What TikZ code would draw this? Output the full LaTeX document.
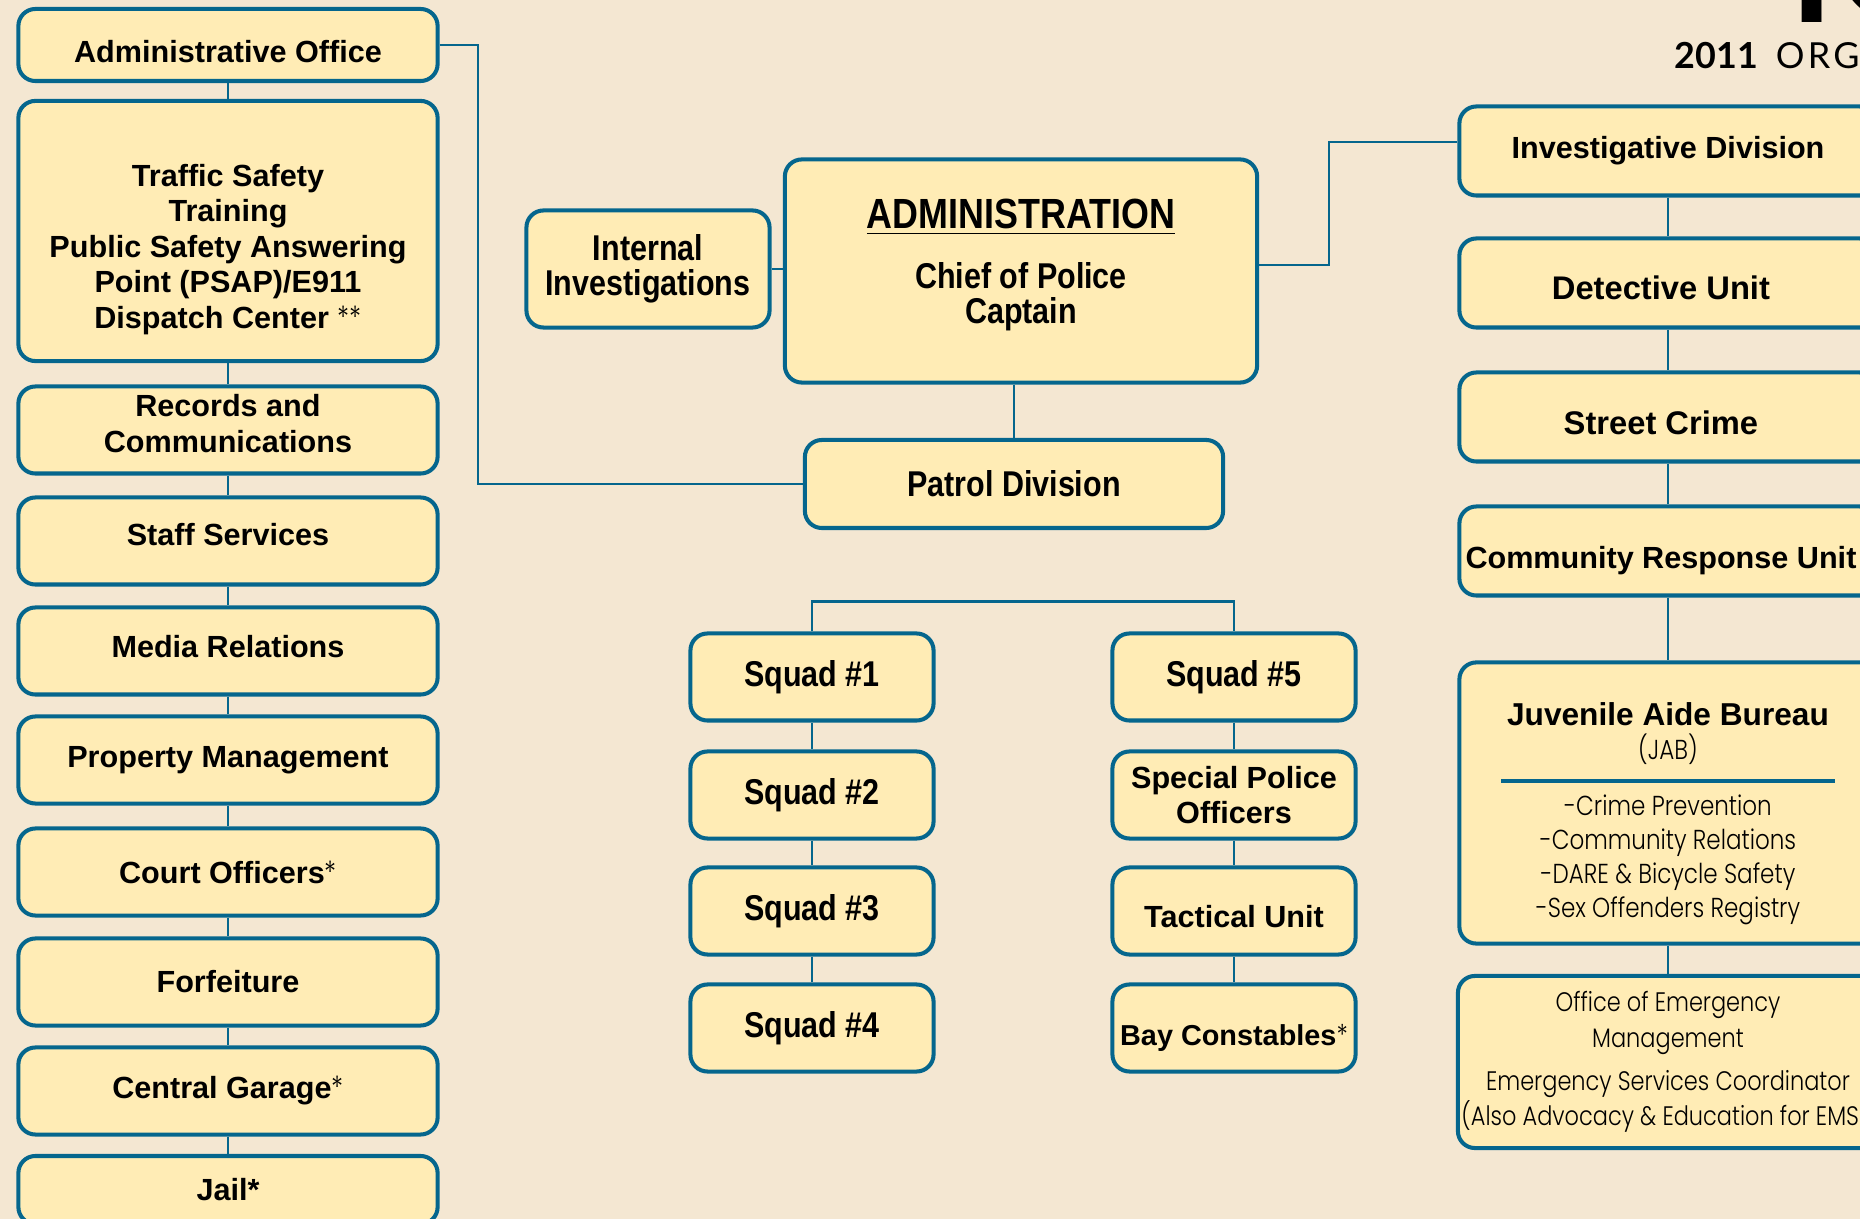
\documentclass[tikz,border=0pt]{standalone}
\usepackage{fontspec}
\setmainfont{Liberation Sans}
\newfontfamily\condfam[FakeStretch=0.85]{Liberation Sans}
\IfFontExistsTF{Poppins Light}
  {\newfontfamily\lightfam[FakeStretch=0.84]{Poppins Light}}
  {\newfontfamily\lightfam[FakeStretch=0.84]{Poppins}}
\newfontfamily\titlefam{Lato}

\definecolor{paper}{HTML}{F4E7D2}
\definecolor{boxfill}{HTML}{FFECB5}
\definecolor{lineblue}{HTML}{05668D}

\newcommand\unitfont{\bfseries\fontsize{8.7}{10.1}\selectfont}
\newcommand\condfont{\condfam\bfseries\fontsize{10.2}{10.1}\selectfont}
\newcommand\lightfont{\lightfam\mdseries\fontsize{7.8}{9.7}\selectfont}
\newcommand\lightstar{{\lightfam\mdseries *}}

\tikzset{
  unit/.style={draw=lineblue, line width=1.15pt, fill=boxfill, rounded corners=0.17cm,
    align=center, inner sep=1pt, font=\unitfont},
  wide/.style={unit, minimum width=4.19cm, minimum height=0.87cm},
  squad/.style={unit, minimum width=2.43cm, minimum height=0.87cm},
  side/.style={unit, minimum width=4.17cm, minimum height=0.89cm},
  lowtext/.style={text height=11.5pt, text depth=1.8pt},
  link/.style={draw=lineblue, line width=0.6pt},
}

\begin{document}
\begin{tikzpicture}[x=0.01cm, y=-0.01cm]
	\useasboundingbox (0,0) rectangle (1860,1219);
	\fill [paper] (0,0) rectangle (1860,1219);
	\clip (0,0) rectangle (1860,1219);

	% title, cut by the edge
	\node [anchor=base west, inner sep=0pt, text depth=0pt, font=\titlefam\fontsize{58}{60}\selectfont] (banner) at (1783,23) {I\kern-4pt C};
	\node [anchor=base west, inner sep=0pt, font=\titlefam\fontsize{10.2}{12}\selectfont] (year) at (1674,69)
		{\textbf{2011}\hspace{2.5pt} {\addfontfeature{LetterSpace=9}ORG}};

	% left column
	\node [wide, lowtext, minimum height=0.72cm] (aoff) at (228,45) {Administrative Office};
	\node [wide, minimum height=2.60cm] (traffic) at (228,231) {\mbox{}\\[6.6pt]Traffic Safety\\Training\\Public Safety Answering\\Point (PSAP)/E911\\Dispatch Center \lightstar\lightstar};
	\node [wide, text depth=3.6pt] (records) at (228,430) {Records and\\Communications};
	\node [wide, text depth=3.8pt] (staff) at (228,541) {Staff Services};
	\node [wide, text depth=2.4pt] (media) at (228,651) {Media Relations};
	\node [wide] (property) at (228,760) {Property Management};
	\node [wide] (court) at (228,872) {Court Officers\lightstar};
	\node [wide] (forfeit) at (228,982) {Forfeiture};
	\node [wide] (garage) at (228,1091) {Central Garage\lightstar};
	\node [wide, minimum height=0.68cm] (jail) at (228,1190) {Jail*};

	% centre
	\node [unit, font=\condfont, minimum width=2.43cm, minimum height=1.17cm] (intinv) at (648,269) {Internal\\Investigations};
	\node [unit, font=\condfont, minimum width=4.72cm, minimum height=2.23cm] (admin) at (1021,271)
		{{\fontsize{12}{14}\selectfont\underline{ADMINISTRATION}}\\[7pt]Chief of Police\\Captain\\[-4.6pt]\mbox{}};
	\node [unit, font=\condfont, minimum width=4.18cm, minimum height=0.88cm] (patrol) at (1014,484) {Patrol Division};

	\node [squad, font=\condfont] (sq1) at (812,677) {Squad \#1};
	\node [squad, font=\condfont] (sq2) at (812,795) {Squad \#2};
	\node [squad, font=\condfont] (sq3) at (812,911) {Squad \#3};
	\node [squad, font=\condfont] (sq4) at (812,1028) {Squad \#4};
	\node [squad, font=\condfont] (sq5) at (1234,677) {Squad \#5};
	\node [squad, font=\bfseries\fontsize{8.7}{9.8}\selectfont] (spo) at (1234,795) {Special Police\\Officers};
	\node [squad, text height=9.5pt] (tact) at (1234,911) {Tactical Unit};
	\node [squad, lowtext, font=\bfseries\fontsize{8.2}{9.8}\selectfont] (bay) at (1234,1028) {Bay Constables\lightstar};

	% right column
	\node [side] (inv) at (1668,151) {Investigative Division};
	\node [side, text height=9.5pt, font=\bfseries\fontsize{9.3}{11}\selectfont] (det) at (1668,283) {Detective Unit\hspace{4pt}};
	\node [side, lowtext, font=\bfseries\fontsize{9.3}{11}\selectfont] (street) at (1668,417) {Street Crime\hspace{4pt}};
	\node [side, lowtext] (cru) at (1668,551) {Community Response Unit\hspace{4pt}};
	\node [side, minimum height=2.81cm] (jab) at (1668,803) {};
	\node [font=\bfseries\fontsize{9}{10}\selectfont] (jabname) at (1668,714) {Juvenile Aide Bureau};
	\node [font=\lightfont] (jabshort) at (1668,749) {(JAB)};
	\draw [lineblue, line width=0.9pt] (1501,781) -- (1835,781);
	\node [font=\lightfont, align=center] (jablist) at (1668,860)
		{-Crime Prevention\\-Community Relations\\-DARE \& Bicycle Safety\\-Sex Offenders Registry};
	\node [side, minimum height=1.72cm, font=\lightfam\fontsize{7.6}{10}\selectfont] (oem) at (1668,1062)
		{Office of Emergency\\Management\\[2.3pt]Emergency Services Coordinator\\(Also Advocacy \& Education for EMS )};

	% connectors
	\foreach \a/\b in {aoff/traffic, traffic/records, records/staff, staff/media, media/property,
			property/court, court/forfeit, forfeit/garage, garage/jail,
			sq1/sq2, sq2/sq3, sq3/sq4, sq5/spo, spo/tact, tact/bay,
			inv/det, det/street, street/cru, cru/jab, jab/oem}
		\draw [link] (\a) -- (\b);

	\coordinate (spine) at (478,0);
	\draw [link] (aoff.east) -| (spine |- patrol.west) -- (patrol.west);
	\draw [link] (intinv.east) -- (intinv.east -| admin.west);
	\draw [link] (admin.south -| patrol.north) -- (patrol.north);
	\coordinate (elbow) at (1329,0);
	\coordinate (invin) at ([yshift=0.09cm]inv.west);
	\draw [link] ([yshift=0.06cm]admin.east) -| (elbow |- invin) -- (invin);
	\draw [link] (sq1.north) -- ++(0,-30) -| (sq5.north);
\end{tikzpicture}
\end{document}
